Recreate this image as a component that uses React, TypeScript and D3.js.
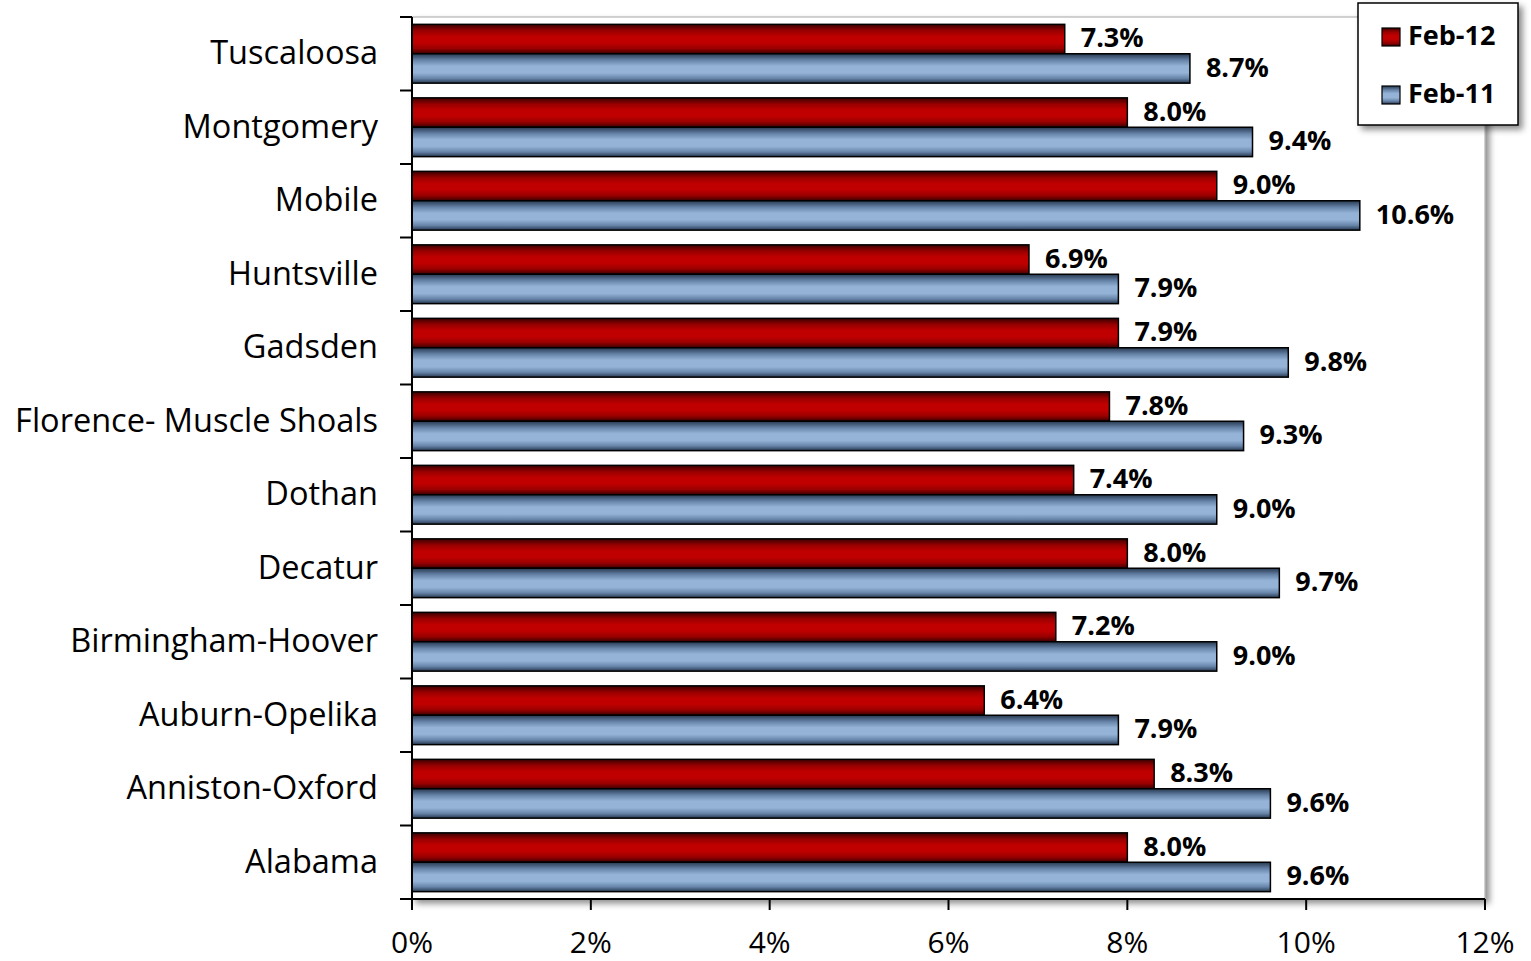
import React from "react";
import * as d3 from "d3";

const categories = [
  "Tuscaloosa",
  "Montgomery",
  "Mobile",
  "Huntsville",
  "Gadsden",
  "Florence- Muscle Shoals",
  "Dothan",
  "Decatur",
  "Birmingham-Hoover",
  "Auburn-Opelika",
  "Anniston-Oxford",
  "Alabama",
];
const feb12 = [7.3, 8.0, 9.0, 6.9, 7.9, 7.8, 7.4, 8.0, 7.2, 6.4, 8.3, 8.0];
const feb11 = [8.7, 9.4, 10.6, 7.9, 9.8, 9.3, 9.0, 9.7, 9.0, 7.9, 9.6, 9.6];
const seriesNames = ["Feb-12", "Feb-11"];
const xTicks = [0, 2, 4, 6, 8, 10, 12];

const W = 1531;
const H = 961;
const plot = { left: 412, right: 1485, top: 17, bottom: 899 };
const FONT = "'Open Sans', sans-serif";

export default function App() {
  const x = d3.scaleLinear().domain([0, 12]).range([plot.left, plot.right]);
  const y = d3.scaleBand().domain(categories).range([plot.top, plot.bottom]).paddingInner(0.2).paddingOuter(0.1);
  const band = (plot.bottom - plot.top) / categories.length;
  const y0 = d3.scaleBand().domain(seriesNames).range([0, y.bandwidth()]);
  const series = [
    { name: "Feb-12", values: feb12, fill: "url(#gRed)" },
    { name: "Feb-11", values: feb11, fill: "url(#gBlue)" },
  ];
  const ticksY = d3.range(categories.length + 1).map((i) => plot.top + i * band);

  return (
    <svg width={W} height={H} style={{ position: "absolute", left: 0, top: 0, background: "#fff" }}>
      <defs>
        <linearGradient id="gRed" x1="0" y1="0" x2="0" y2="1">
          <stop offset="0" stopColor="#3a0000" />
          <stop offset="0.22" stopColor="#9a0000" />
          <stop offset="0.42" stopColor="#c00000" />
          <stop offset="0.62" stopColor="#c00000" />
          <stop offset="0.82" stopColor="#9a0000" />
          <stop offset="1" stopColor="#3a0000" />
        </linearGradient>
        <linearGradient id="gBlue" x1="0" y1="0" x2="0" y2="1">
          <stop offset="0" stopColor="#26384f" />
          <stop offset="0.22" stopColor="#6683a8" />
          <stop offset="0.42" stopColor="#95b3d7" />
          <stop offset="0.65" stopColor="#95b3d7" />
          <stop offset="0.84" stopColor="#6683a8" />
          <stop offset="1" stopColor="#26384f" />
        </linearGradient>
        <filter id="shadow" x="-5%" y="-5%" width="115%" height="115%">
          <feDropShadow dx="4" dy="4" stdDeviation="3" floodColor="#000" floodOpacity="0.45" />
        </filter>
      </defs>

      {/* plot area */}
      <rect x={plot.left} y={plot.top} width={plot.right - plot.left} height={plot.bottom - plot.top}
        fill="#fff" stroke="#a6a6a6" strokeWidth={1} filter="url(#shadow)" />

      {/* bars */}
      {series.map((s) =>
        s.values.map((v, i) => {
          const by = (y(categories[i]) as number) + (y0(s.name) as number);
          const bh = y0.bandwidth();
          return (
            <g key={s.name + i}>
              <rect x={x(0)} y={by} width={x(v) - x(0)} height={bh} fill={s.fill} stroke="#000" strokeWidth={1.5} />
              <text x={x(v) + 16} y={by + bh / 2 + 1} dominantBaseline="middle" fontFamily={FONT}
                fontWeight="bold" fontSize={27} fill="#000">{v.toFixed(1)}%</text>
            </g>
          );
        })
      )}

      {/* y axis */}
      <line x1={plot.left} x2={plot.left} y1={plot.top} y2={plot.bottom} stroke="#000" strokeWidth={2} />
      {ticksY.map((t, i) => (
        <line key={"yt" + i} x1={plot.left - 12} x2={plot.left} y1={t} y2={t} stroke="#000" strokeWidth={2} />
      ))}
      {categories.map((c) => (
        <text key={c} x={378} y={(y(c) as number) + y.bandwidth() / 2 + 2} textAnchor="end" dominantBaseline="middle"
          fontFamily={FONT} fontSize={32.5} fill="#000">{c}</text>
      ))}

      {/* x axis */}
      <line x1={plot.left - 12} x2={plot.right} y1={plot.bottom} y2={plot.bottom} stroke="#000" strokeWidth={2} />
      {xTicks.map((t) => (
        <g key={"xt" + t}>
          <line x1={x(t)} x2={x(t)} y1={plot.bottom} y2={plot.bottom + 11} stroke="#000" strokeWidth={2} />
          <text x={x(t)} y={953} textAnchor="middle" fontFamily={FONT} fontSize={30} fill="#000">{t}%</text>
        </g>
      ))}

      {/* legend */}
      <rect x={1358} y={3} width={160} height={122} fill="#fff" stroke="#000" strokeWidth={1.5} filter="url(#shadow)" />
      {series.map((s, i) => (
        <g key={"lg" + s.name}>
          <rect x={1382} y={28 + i * 58} width={18} height={18} fill={s.fill} stroke="#000" strokeWidth={1.2} />
          <text x={1408} y={38 + i * 58} dominantBaseline="middle" fontFamily={FONT} fontWeight="bold" fontSize={27} fill="#000">{s.name}</text>
        </g>
      ))}
    </svg>
  );
}
